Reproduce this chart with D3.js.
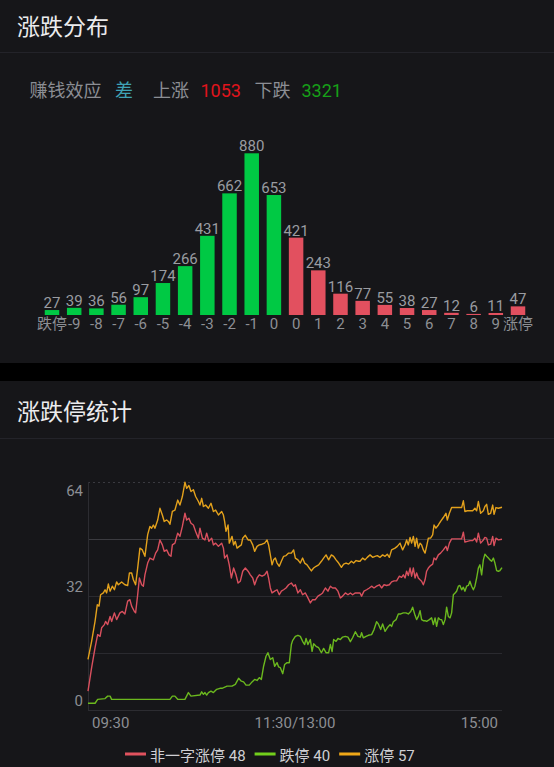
<!DOCTYPE html>
<html><head><meta charset="utf-8">
<script src="https://cdn.jsdelivr.net/npm/d3@7"></script>
<style>
html,body{margin:0;padding:0;background:#000;}
svg{display:block;}
</style></head><body>
<svg id="c" width="554" height="767"></svg>
<script>
// ---------- DATA ----------
const distTitle = "涨跌分布";
const statTitle = "涨跌停统计";
const effectLabel = "赚钱效应";
const effectValue = "差";
const upLabel = "上涨";
const upCount = 1053;
const downLabel = "下跌";
const downCount = 3321;

const categories = ["跌停","-9","-8","-7","-6","-5","-4","-3","-2","-1","0","0","1","2","3","4","5","6","7","8","9","涨停"];
const counts = [27,39,36,56,97,174,266,431,662,880,653,421,243,116,77,55,38,27,12,6,11,47];
const directions = ["down","down","down","down","down","down","down","down","down","down","down",
                    "up","up","up","up","up","up","up","up","up","up","up"];

const timeTicks = [0,120,240];
const timeTickLabels = ["09:30","11:30/13:00","15:00"];
const countTicks = [0,32,64];
const gridValues = [16,32,48];

const seriesNames = ["非一字涨停","跌停","涨停"];

// [minute since 09:30 (trading minutes), count]
const limitUp = [[0,14.2],[2.1,19.3],[4.1,25.0],[5.4,29.6],[6.4,29.2],[7.3,32.4],[8.9,32.9],[9.9,33.8],[10.8,32.9],[11.8,35.4],[12.8,33.4],[14.1,34.8],[15.3,33.8],[16.6,36.0],[17.6,35.2],[19.5,36.0],[21.4,35.2],[23.0,35.0],[24.0,38.5],[25.3,38.5],[26.3,36.6],[27.6,35.2],[28.8,39.9],[30.1,45.5],[31.5,45.0],[33.0,43.2],[34.6,49.3],[35.9,51.6],[36.9,51.1],[37.9,52.0],[38.8,51.1],[40.4,53.4],[41.7,56.7],[43.1,54.8],[44.2,53.0],[45.6,53.4],[46.6,53.0],[47.5,52.2],[48.9,55.8],[50.4,56.2],[52.0,59.0],[53.3,57.6],[54.7,60.0],[56.2,64.0],[57.2,62.3],[58.5,63.1],[59.7,61.4],[61.1,61.9],[62.4,60.0],[64.0,58.6],[64.9,57.6],[65.9,59.5],[66.9,57.2],[68.2,57.6],[69.8,56.7],[71.3,58.1],[72.7,55.8],[74.0,56.2],[75.6,54.8],[77.5,55.8],[78.5,54.8],[79.2,53.0],[80.0,50.2],[81.2,52.0],[81.9,46.9],[83.5,48.8],[84.4,46.4],[85.4,47.4],[86.4,45.5],[87.7,46.0],[88.9,46.4],[89.7,48.3],[91.2,49.1],[92.8,47.8],[94.1,47.8],[95.5,46.4],[96.6,44.6],[98.0,46.0],[99.3,46.4],[100.9,46.6],[102.4,46.9],[103.8,47.8],[104.7,46.4],[105.7,43.6],[106.7,40.8],[107.6,42.2],[108.6,42.7],[109.6,41.3],[110.9,40.4],[112.1,41.8],[113.4,43.2],[114.8,43.4],[116.3,44.1],[117.9,44.1],[119.2,45.0],[120.2,42.7],[121.7,42.2],[123.1,41.3],[124.4,42.7],[125.6,41.3],[127.0,40.8],[128.3,39.9],[129.5,39.1],[130.8,39.9],[132.2,40.4],[133.7,40.8],[135.3,41.8],[136.6,42.7],[138.0,43.6],[139.5,42.2],[141.1,43.6],[142.4,43.2],[143.8,42.2],[145.3,41.3],[146.9,40.1],[148.2,41.0],[149.6,41.3],[151.1,41.0],[152.7,41.8],[154.0,41.3],[155.4,42.0],[156.9,41.8],[157.7,41.8],[159.2,42.7],[160.6,42.2],[161.9,42.9],[163.5,43.6],[165.0,42.9],[166.4,43.2],[167.7,43.4],[169.3,42.9],[170.8,43.6],[172.2,43.2],[173.5,43.8],[174.7,42.9],[176.0,45.0],[178.0,45.5],[179.3,46.0],[180.9,46.9],[182.4,45.0],[183.8,46.4],[184.7,47.8],[185.7,46.4],[186.7,48.5],[187.6,46.9],[188.6,48.8],[189.6,46.0],[190.5,48.3],[191.5,45.5],[192.5,46.9],[193.4,46.4],[194.4,45.0],[195.4,44.1],[196.3,46.0],[197.3,48.3],[198.6,48.3],[199.8,49.2],[200.6,52.0],[201.7,51.1],[203.1,52.0],[204.4,53.0],[206.0,54.1],[207.5,55.3],[208.3,53.4],[209.5,55.3],[210.8,56.9],[213.7,56.9],[216.6,56.9],[217.6,58.8],[218.5,55.8],[219.9,56.0],[221.5,56.0],[223.0,56.0],[224.3,56.7],[225.3,56.0],[226.3,58.6],[227.6,55.3],[229.2,56.0],[230.1,57.2],[231.1,57.8],[232.1,55.0],[233.4,55.3],[234.6,57.6],[235.4,55.0],[236.5,56.9],[237.9,56.7],[240,57]];

const nonOneWordUp = [[0,5.3],[2.1,11.9],[4.1,17.5],[5.6,21.2],[7.0,20.7],[7.9,23.1],[9.5,24.0],[10.2,24.9],[11.4,24.0],[12.8,26.3],[13.7,24.9],[15.3,27.3],[16.6,25.4],[18.5,27.3],[19.9,27.7],[21.4,27.0],[23.0,30.6],[24.3,31.0],[25.3,29.2],[26.9,27.7],[27.6,27.3],[28.8,32.4],[29.8,37.1],[31.1,35.2],[32.1,34.8],[33.0,38.0],[34.6,41.3],[35.9,42.7],[37.9,42.2],[39.2,44.1],[40.4,45.0],[41.7,47.8],[43.1,46.4],[44.2,44.6],[45.6,45.0],[47.0,43.6],[48.1,43.2],[48.9,46.4],[50.4,46.9],[52.0,49.7],[53.3,48.8],[54.7,51.6],[56.2,55.3],[57.2,53.4],[58.5,53.9],[59.7,52.5],[61.1,52.0],[62.4,50.2],[64.0,48.3],[64.9,51.1],[66.3,48.3],[67.8,47.8],[68.8,49.7],[70.1,47.4],[71.7,48.3],[72.7,46.4],[74.0,46.9],[75.6,46.0],[77.5,46.9],[78.5,45.5],[79.2,42.7],[80.6,43.6],[81.9,40.8],[83.1,37.1],[84.4,39.9],[85.8,38.0],[87.0,35.7],[88.3,36.2],[89.7,39.0],[91.2,39.9],[92.8,39.0],[94.1,38.0],[95.5,37.1],[96.6,35.2],[98.0,37.1],[99.3,38.0],[100.9,37.6],[102.4,38.0],[103.8,39.0],[104.7,37.1],[105.7,34.3],[106.7,32.9],[108.2,33.4],[109.6,33.8],[110.9,32.4],[112.1,33.4],[113.4,33.8],[114.8,34.3],[116.3,35.2],[117.9,35.7],[119.2,34.8],[120.2,35.2],[121.7,32.9],[123.1,33.8],[124.4,32.4],[126.0,32.9],[127.5,31.5],[128.9,30.1],[130.2,31.0],[131.8,31.0],[133.3,32.0],[134.7,32.4],[136.0,32.9],[137.6,34.3],[139.1,33.4],[140.5,34.8],[141.8,34.3],[143.4,34.3],[144.9,33.4],[146.3,31.5],[147.6,32.0],[149.2,32.9],[150.7,32.4],[152.1,32.9],[153.4,32.4],[155.0,32.9],[156.9,32.9],[157.7,32.9],[158.6,32.0],[160.0,33.4],[161.5,33.8],[163.1,34.3],[164.4,34.8],[165.8,34.3],[167.3,34.8],[168.9,35.2],[170.2,34.3],[171.6,35.2],[173.1,35.0],[174.7,35.2],[176.0,36.0],[177.4,36.3],[178.9,36.3],[180.5,37.6],[181.8,37.3],[182.8,38.0],[183.8,37.1],[184.7,39.0],[185.7,37.8],[186.7,39.9],[187.6,37.6],[188.6,39.9],[189.6,37.1],[190.5,38.5],[191.5,37.1],[192.5,36.6],[193.4,36.2],[194.4,35.2],[195.4,36.6],[196.3,39.0],[197.3,39.9],[198.6,40.6],[199.8,41.0],[200.6,42.7],[201.7,42.2],[203.1,43.6],[204.4,44.1],[206.0,45.0],[207.5,46.0],[208.3,44.8],[209.5,46.9],[210.8,48.1],[213.7,48.1],[216.6,48.1],[217.6,50.0],[218.5,47.2],[219.9,47.4],[221.5,47.6],[223.0,47.6],[224.3,48.3],[225.3,47.2],[226.3,49.7],[227.6,46.9],[229.2,47.8],[230.1,48.5],[231.1,48.3],[232.1,46.4],[233.4,46.6],[234.6,48.8],[235.4,46.2],[236.5,48.3],[237.9,47.8],[240,48]];

const limitDown = [[0,1.9],[4.1,1.9],[5.6,3.0],[9.9,3.2],[11.4,3.9],[12.8,3.9],[13.7,3.0],[47.5,3.0],[48.9,3.9],[50.4,3.9],[52.0,3.0],[56.2,3.0],[58.2,4.9],[59.7,3.9],[64.9,4.2],[65.9,5.1],[66.9,4.4],[67.8,4.9],[68.8,4.2],[69.8,4.9],[71.3,5.3],[72.7,4.9],[74.6,5.8],[76.5,6.1],[77.7,6.1],[80.6,6.7],[83.5,6.7],[85.4,7.2],[87.3,8.9],[88.9,8.1],[90.2,7.9],[91.6,7.0],[93.5,7.0],[95.1,7.9],[96.6,8.6],[98.0,8.3],[99.3,9.1],[100.5,8.6],[101.8,12.3],[103.2,15.1],[104.3,16.1],[105.7,14.2],[107.1,14.7],[108.2,12.3],[109.6,13.3],[110.5,12.1],[111.5,11.9],[112.9,10.2],[114.0,12.8],[115.4,13.3],[116.7,13.3],[117.9,18.4],[118.6,19.5],[120.2,20.7],[121.7,21.0],[123.1,20.7],[124.4,19.3],[125.6,18.4],[126.4,20.1],[127.5,18.4],[128.9,19.8],[129.9,16.5],[130.8,18.6],[132.2,17.9],[133.7,17.5],[135.3,16.1],[136.6,17.3],[138.0,16.1],[139.5,16.1],[140.5,18.4],[141.5,16.4],[142.4,19.8],[143.8,19.3],[144.9,20.1],[146.3,19.8],[147.6,20.5],[149.2,20.7],[150.7,20.5],[152.1,19.2],[153.4,20.3],[155.0,22.0],[156.5,20.7],[157.9,20.5],[158.6,21.7],[159.6,20.3],[161.2,20.7],[162.5,21.0],[164.4,21.2],[165.8,22.6],[167.3,24.8],[168.3,24.2],[169.7,22.6],[170.8,24.2],[172.2,22.1],[173.5,23.1],[175.1,24.0],[176.0,23.5],[177.0,24.8],[178.6,25.4],[179.9,27.0],[181.3,27.0],[182.8,27.3],[184.3,27.3],[185.7,27.0],[187.1,27.7],[188.2,28.9],[189.6,26.6],[190.5,25.4],[191.5,26.3],[192.5,27.9],[193.4,25.4],[194.4,25.1],[195.4,25.1],[196.3,24.9],[197.9,25.4],[199.2,25.9],[200.2,24.0],[201.2,25.9],[202.1,23.5],[203.1,25.9],[204.1,25.4],[205.0,25.4],[206.0,24.0],[207.0,25.4],[207.9,28.9],[208.9,26.3],[209.9,25.9],[210.8,27.3],[211.8,32.4],[212.8,32.9],[213.7,33.4],[214.7,34.8],[215.6,35.0],[216.6,33.8],[217.6,34.5],[218.5,33.4],[219.5,34.8],[220.5,35.0],[221.4,36.2],[222.4,34.8],[223.4,33.8],[224.3,34.8],[225.3,37.1],[226.3,39.9],[227.2,40.8],[228.2,38.0],[229.2,42.2],[230.1,43.8],[231.1,43.2],[232.1,42.7],[233.0,42.2],[234.0,41.8],[235.0,42.7],[235.9,41.3],[236.9,39.2],[237.9,39.0],[238.8,39.2],[240,40]];

// ---------- DRAW ----------
const FONT = "Roboto, 'Noto Sans CJK SC', sans-serif";
const svg = d3.select("#c").style("font-family", FONT);
const BG = "#161619";

svg.append("rect").attr("x",0).attr("y",0).attr("width",554).attr("height",363).attr("fill",BG);
svg.append("rect").attr("x",0).attr("y",381).attr("width",554).attr("height",386).attr("fill",BG);

// titles
svg.append("text").attr("x",17).attr("y",34.5).attr("font-size",23).attr("fill","#ebebed").text(distTitle);
svg.append("line").attr("x1",0).attr("x2",554).attr("y1",52.5).attr("y2",52.5).attr("stroke","#232329").attr("stroke-width",1);
svg.append("text").attr("x",17).attr("y",420).attr("font-size",23).attr("fill","#ebebed").text(statTitle);
svg.append("line").attr("x1",0).attr("x2",554).attr("y1",438.5).attr("y2",438.5).attr("stroke","#232329").attr("stroke-width",1);

// summary line
const sumY = 97;
const sumItems = [
  {t: effectLabel, x: 29.5, c: "#8c8e94"},
  {t: effectValue, x: 115, c: "#3fa3b5"},
  {t: upLabel, x: 153, c: "#8c8e94"},
  {t: String(upCount), x: 200.5, c: "#e0141c"},
  {t: downLabel, x: 254.5, c: "#8c8e94"},
  {t: String(downCount), x: 301.5, c: "#16a018"}
];
svg.append("g").selectAll("text").data(sumItems).join("text")
  .attr("x", d => d.x).attr("y", sumY).attr("font-size", 18).attr("fill", d => d.c).text(d => d.t);

// bar chart
const xb = d3.scalePoint().domain(d3.range(categories.length)).range([52, 518]);
const yb = d3.scaleLinear().domain([0, d3.max(counts)]).range([315, 153.3]);
const barW = 14.5;
const colorBar = {down: "#00c944", up: "#e2505f"};
const bars = svg.append("g");
bars.selectAll("rect").data(counts).join("rect")
  .attr("x", (d,i) => xb(i) - barW/2)
  .attr("y", d => yb(d))
  .attr("width", barW)
  .attr("height", d => Math.max(1, yb(0) - yb(d)))
  .attr("fill", (d,i) => colorBar[directions[i]]);
bars.selectAll("text.v").data(counts).join("text").attr("class","v")
  .attr("x", (d,i) => xb(i)).attr("y", d => Math.min(yb(d), yb(0) - 1) - 2)
  .attr("text-anchor","middle").attr("font-size",15).attr("fill","#9a9ca1").text(d => d);
bars.selectAll("text.c").data(categories).join("text").attr("class","c")
  .attr("x", (d,i) => xb(i)).attr("y", 329)
  .attr("text-anchor","middle").attr("font-size",15).attr("fill","#8d8f94").text(d => d);

// line chart
const xl = d3.scaleLinear().domain([0, 240]).range([88, 502]);
const yl = d3.scaleLinear().domain([0, 64]).range([710, 482.3]);
const g = svg.append("g");
g.selectAll("line.grid").data(gridValues).join("line").attr("class","grid")
  .attr("x1", xl(0)).attr("x2", xl(240))
  .attr("y1", d => Math.round(yl(d)) + 0.5).attr("y2", d => Math.round(yl(d)) + 0.5)
  .attr("stroke", d => d === 48 ? "#3b3b40" : "#2a2a2f").attr("stroke-width", 1);
// bottom axis
g.append("line").attr("x1", xl(0)).attr("x2", xl(240))
  .attr("y1", Math.round(yl(0)) + 0.5).attr("y2", Math.round(yl(0)) + 0.5)
  .attr("stroke", "#2c2c31");
// top dashed
g.append("line").attr("x1", xl(0)).attr("x2", xl(240))
  .attr("y1", Math.round(yl(64)) + 0.5).attr("y2", Math.round(yl(64)) + 0.5)
  .attr("stroke", "#3a3a40").attr("stroke-dasharray", "2,3");
// left axis
g.append("line").attr("x1", xl(0) + 0.5).attr("x2", xl(0) + 0.5)
  .attr("y1", yl(64)).attr("y2", yl(0))
  .attr("stroke", "#2c2c31");

g.selectAll("text.yt").data(countTicks).join("text").attr("class","yt")
  .attr("x", 83).attr("y", d => yl(d) + (d === 64 ? 14 : -4))
  .attr("text-anchor","end").attr("font-size",15).attr("fill","#8c8e93").text(d => d);

g.selectAll("text.xt").data(timeTicks).join("text").attr("class","xt")
  .attr("x", (d,i) => xl(d) + (i === 0 ? 4 : i === timeTicks.length - 1 ? -4 : 0))
  .attr("y", 728)
  .attr("text-anchor", (d,i) => i === 0 ? "start" : i === timeTicks.length - 1 ? "end" : "middle")
  .attr("font-size",15).attr("fill","#8c8e93").text((d,i) => timeTickLabels[i]);

const lineGen = d3.line().x(d => xl(d[0])).y(d => yl(d[1]));
const seriesData = [nonOneWordUp, limitDown, limitUp];
const lineColors = ["#d9505e", "#6bb81e", "#e3a11c"];
const legendColors = ["#e0525e", "#72cf1c", "#f0a818"];
[2,0,1].forEach(k => {
  g.append("path").attr("d", lineGen(seriesData[k])).attr("fill","none")
    .attr("stroke", lineColors[k]).attr("stroke-width", 1.4).attr("stroke-linejoin","round");
});

// legend
const lg = svg.append("g");
let lx = 125;
const legY = 754;
seriesNames.forEach((name, k) => {
  const last = seriesData[k][seriesData[k].length - 1][1];
  lg.append("line").attr("x1", lx).attr("x2", lx + 21).attr("y1", legY).attr("y2", legY)
    .attr("stroke", legendColors[k]).attr("stroke-width", 3);
  const t = lg.append("text").attr("x", lx + 25).attr("y", 760.5).attr("font-size", 15)
    .attr("fill", "#cfcfd3").text(name + " " + Math.round(last));
  lx = lx + 25 + t.node().getComputedTextLength() + 9;
});
</script>
</body></html>
